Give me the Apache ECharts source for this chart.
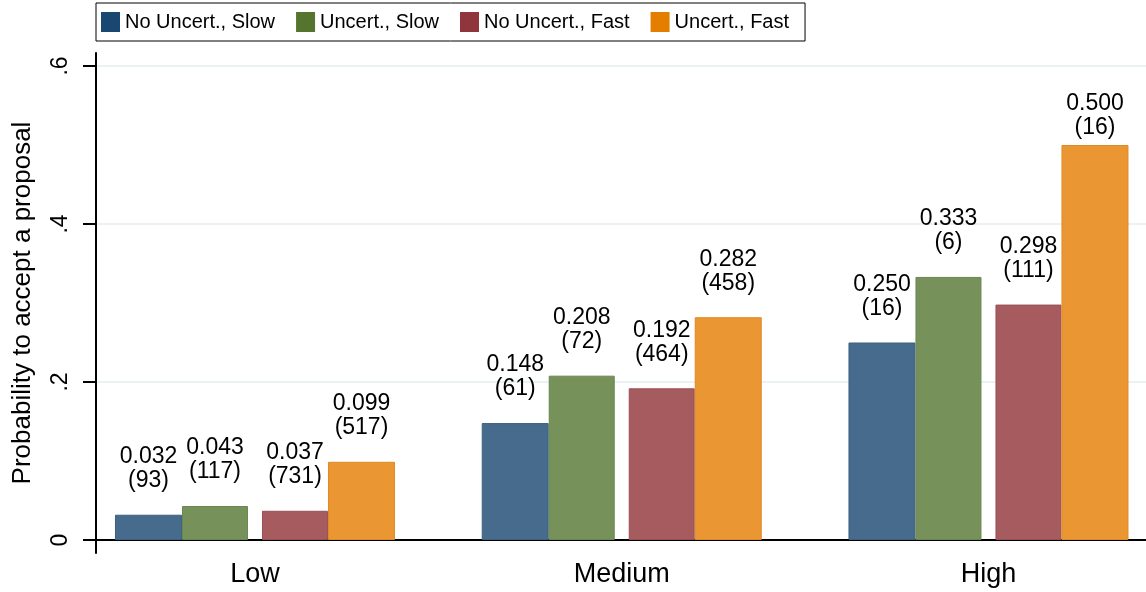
<!DOCTYPE html>
<html>
<head>
<meta charset="utf-8">
<script src="https://cdn.jsdelivr.net/npm/echarts@6/dist/echarts.min.js"></script>
<style>
html,body{margin:0;padding:0;background:#fff;}
#c{width:1146px;height:592px;}
</style>
</head>
<body>
<div id="c"></div>
<script>
// ---- data ----
var categories = ['Low', 'Medium', 'High'];
var seriesNames = ['No Uncert., Slow', 'Uncert., Slow', 'No Uncert., Fast', 'Uncert., Fast'];
var noUncSlow = [0.032, 0.148, 0.250];
var uncSlow = [0.043, 0.208, 0.333];
var noUncFast = [0.037, 0.192, 0.298];
var uncFast = [0.099, 0.282, 0.500];
var nNoUncSlow = [93, 61, 16];
var nUncSlow = [117, 72, 6];
var nNoUncFast = [731, 464, 111];
var nUncFast = [517, 458, 16];
var yTickValues = [0, 0.2, 0.4, 0.6];
var yTickLabels = ['0', '.2', '.4', '.6'];
var yTitle = 'Probability to accept a proposal';

// ---- styles ----
var FONT = 'Liberation Sans, Arial, sans-serif';
var fillColors = ['#466b8c', '#76925a', '#a65b5f', '#ea9633'];
var edgeColors = ['#3c6080', '#6a8650', '#985055', '#e08a25'];
var legendColors = ['#1a476f', '#55752f', '#90353b', '#e37e00'];
var barWidths = [67, 66, 66, 67];

var values = [noUncSlow, uncSlow, noUncFast, uncFast];
var counts = [nNoUncSlow, nUncSlow, nNoUncFast, nUncFast];

function makeSeries(i) {
  var data = values[i].map(function (v, j) {
    var item = { value: v, n: counts[i][j] };
    // label crowding near the top of the plot region
    if (v >= 0.45) item.label = { distance: 5 };
    return item;
  });
  return {
    name: seriesNames[i],
    type: 'bar',
    xAxisIndex: 0, yAxisIndex: 0,
    barWidth: barWidths[i],
    barGap: '0%',
    data: data,
    itemStyle: { color: fillColors[i], borderColor: edgeColors[i], borderWidth: 1 },
    label: {
      show: true,
      position: 'top',
      distance: 22,
      fontFamily: FONT,
      fontSize: 23,
      lineHeight: 24,
      color: '#000',
      formatter: function (p) {
        return p.value.toFixed(3) + '\n(' + p.data.n + ')';
      }
    },
    silent: true
  };
}

var series = [makeSeries(0), makeSeries(1),
  { name: '__gap', type: 'bar', xAxisIndex: 0, yAxisIndex: 0, barWidth: 14, barGap: '0%', data: ['-', '-', '-'] },
  makeSeries(2), makeSeries(3),
  // frame grids need a series each
  { type: 'line', xAxisIndex: 1, yAxisIndex: 1, data: [], silent: true },
  { type: 'line', xAxisIndex: 2, yAxisIndex: 2, data: [], silent: true }
];

var chart = echarts.init(document.getElementById('c'), null, { renderer: 'canvas' });
chart.setOption({
  animation: false,
  textStyle: { fontFamily: FONT },
  legend: {
    data: seriesNames.map(function (n, i) { return { name: n, itemStyle: { color: legendColors[i], borderWidth: 0 } }; }),
    left: 96, top: 3,
    orient: 'horizontal',
    icon: 'rect',
    itemWidth: 19, itemHeight: 20, itemGap: 21,
    padding: [9, 16, 9, 5],
    borderColor: '#000', borderWidth: 1,
    textStyle: { fontFamily: FONT, fontSize: 20, color: '#000' },
    selectedMode: false
  },
  grid: [
    { left: 71.6, right: -25.85, top: 66, bottom: 52, outerBoundsMode: 'none', containLabel: false },
    { left: 96, right: 0, top: 53, bottom: 39, outerBoundsMode: 'none', containLabel: false },
    { left: 96, right: 0, top: 66, bottom: 52, outerBoundsMode: 'none', containLabel: false }
  ],
  xAxis: [
    { gridIndex: 0, type: 'category', data: categories,
      axisLine: { show: false }, axisTick: { show: false },
      axisLabel: { fontFamily: FONT, fontSize: 27, color: '#000', margin: 21 } },
    { gridIndex: 1, type: 'value', min: 0, max: 1, show: false },
    { gridIndex: 2, type: 'value', min: 0, max: 1,
      axisLine: { show: true, onZero: false, lineStyle: { color: '#000', width: 2 } },
      axisTick: { show: false }, axisLabel: { show: false }, splitLine: { show: false } }
  ],
  yAxis: [
    { gridIndex: 0, type: 'value', min: 0, max: 0.6, interval: 0.2, position: 'left', offset: -24.4,
      name: yTitle, nameLocation: 'middle', nameGap: 60,
      nameTextStyle: { fontFamily: FONT, fontSize: 26, color: '#000' },
      axisLine: { show: false },
      axisTick: { show: true, inside: false, length: 13, lineStyle: { color: '#000', width: 2 } },
      axisLabel: { rotate: 90, fontFamily: FONT, fontSize: 23, color: '#000', margin: 24,
        formatter: function (v) {
          for (var k = 0; k < yTickValues.length; k++) if (Math.abs(yTickValues[k] - v) < 1e-9) return yTickLabels[k];
          return '';
        } },
      splitLine: { show: false } },
    { gridIndex: 1, type: 'value', min: 0, max: 1, position: 'left',
      axisLine: { show: true, onZero: false, lineStyle: { color: '#000', width: 2 } },
      axisTick: { show: false }, axisLabel: { show: false }, splitLine: { show: false } },
    { gridIndex: 2, type: 'value', min: 0, max: 0.6, interval: 0.2,
      axisLine: { show: false }, axisTick: { show: false }, axisLabel: { show: false },
      splitLine: { show: true, lineStyle: { color: '#e3eef1', width: 1.5 } } }
  ],
  series: series
});
</script>
</body>
</html>
